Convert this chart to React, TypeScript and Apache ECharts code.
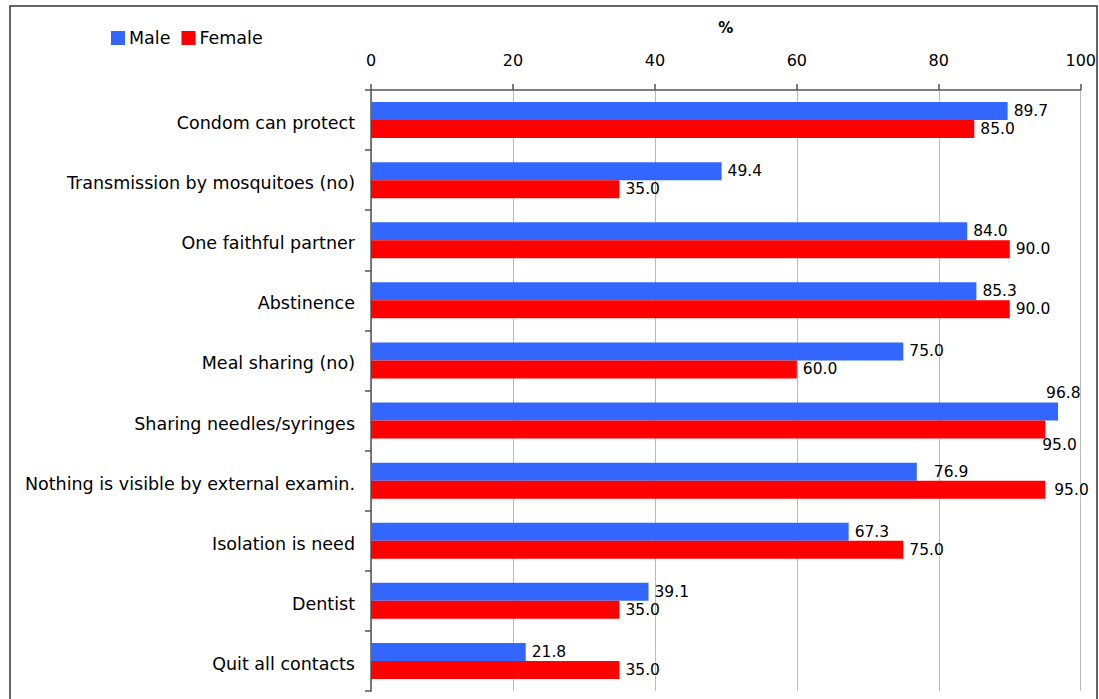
import React, { useEffect, useRef } from "react";
import * as echarts from "echarts";

const categories = [
  "Condom can protect",
  "Transmission by mosquitoes (no)",
  "One faithful partner",
  "Abstinence",
  "Meal sharing (no)",
  "Sharing needles/syringes",
  "Nothing is visible by external examin.",
  "Isolation is need",
  "Dentist",
  "Quit all contacts",
];
const maleValues = [89.7, 49.4, 84.0, 85.3, 75.0, 96.8, 76.9, 67.3, 39.1, 21.8];
const femaleValues = [85.0, 35.0, 90.0, 90.0, 60.0, 95.0, 95.0, 75.0, 35.0, 35.0];
const xTicks = [0, 20, 40, 60, 80, 100];

const LABEL_FONT = "DejaVu Sans";

export default function App() {
  const ref = useRef<HTMLDivElement>(null);
  useEffect(() => {
    if (!ref.current) return;
    const chart = echarts.init(ref.current, undefined, { renderer: "svg" });

    const maleData = maleValues.map((v, i) => {
      if (i === 5) return { value: v, label: { offset: [-18, -19] } };
      if (i === 6) return { value: v, label: { offset: [11, 0] } };
      return { value: v };
    });
    const femaleData = femaleValues.map((v, i) => {
      if (i === 5) return { value: v, label: { offset: [-9, 15] } };
      if (i === 6) return { value: v, label: { offset: [3, 0] } };
      return { value: v };
    });

    const valueLabel = {
      show: true,
      position: "right" as const,
      distance: 6,
      color: "#000",
      fontFamily: LABEL_FONT,
      fontSize: 15.5,
      formatter: (p: any) => Number(p.value).toFixed(1),
    };

    chart.setOption({
      animation: false,
      backgroundColor: "#fff",
      graphic: [
        {
          type: "rect",
          shape: { x: 10, y: 6, width: 1087, height: 700 },
          style: { fill: "none", stroke: "#333", lineWidth: 1.5 },
          silent: true,
        },
      ],
      legend: {
        left: 106,
        top: 24,
        icon: "rect",
        itemWidth: 14,
        itemHeight: 14,
        itemGap: 11,
        textStyle: { fontFamily: LABEL_FONT, fontSize: 17.5, color: "#000", padding: [0, 0, 0, -1] },
        data: ["Male", "Female"],
      },
      grid: { left: 371, top: 90, right: 17, bottom: 8, containLabel: false },
      xAxis: {
        type: "value",
        position: "top",
        min: 0,
        max: 100,
        interval: 20,
        name: "%",
        nameLocation: "middle",
        nameGap: 55,
        nameTextStyle: { fontFamily: LABEL_FONT, fontSize: 15, fontWeight: "bold", color: "#000" },
        axisLine: { show: true, lineStyle: { color: "#555", width: 1.5 } },
        axisTick: { show: true, length: 6, lineStyle: { color: "#555", width: 1.5 } },
        axisLabel: {
          margin: 22,
          fontFamily: LABEL_FONT,
          fontSize: 16,
          color: "#000",
          formatter: (v: number) => (xTicks.includes(v) ? String(v) : ""),
        },
        splitLine: { show: true, lineStyle: { color: "#bbb", width: 1 } },
      },
      yAxis: {
        type: "category",
        inverse: true,
        data: categories,
        axisLine: { show: true, lineStyle: { color: "#555", width: 1.5 } },
        axisTick: { show: true, length: 6, lineStyle: { color: "#555", width: 1.5 } },
        axisLabel: {
          margin: 16,
          color: "#000",
          formatter: (v: string) => "{c|" + v + "}",
          rich: {
            c: {
              fontFamily: LABEL_FONT,
              fontSize: 17.5,
              color: "#000",
              padding: [6, 0, 0, 0],
            },
          },
        },
        splitLine: { show: false },
      },
      series: [
        {
          name: "Male",
          type: "bar",
          data: maleData,
          barWidth: 18,
          barGap: "0%",
          itemStyle: { color: "#3366FF" },
          label: valueLabel,
        },
        {
          name: "Female",
          type: "bar",
          data: femaleData,
          barWidth: 18,
          barGap: "0%",
          itemStyle: { color: "#FF0000" },
          label: valueLabel,
        },
      ],
    });
    return () => chart.dispose();
  }, []);

  return (
    <div
      ref={ref}
      style={{ position: "fixed", left: 0, top: 0, width: 1099, height: 699 }}
    />
  );
}
